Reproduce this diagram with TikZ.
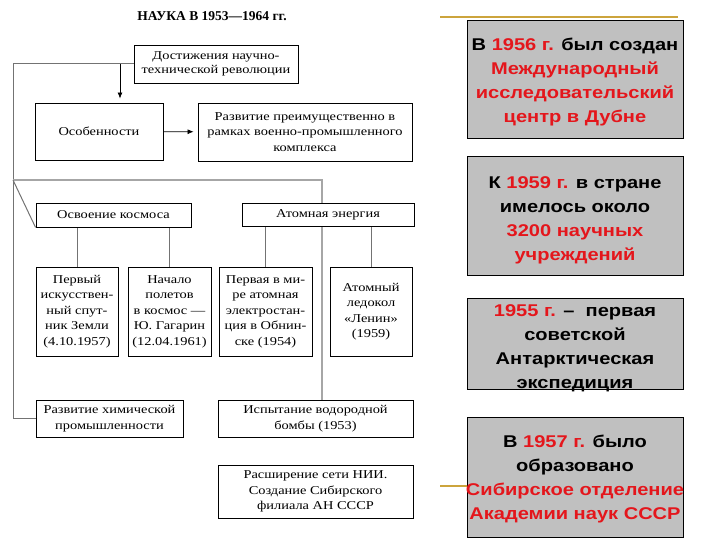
\documentclass[tikz,border=0pt]{standalone}
\usepackage{fontspec}
\setmainfont{Liberation Serif}
\newfontfamily\boxfont[FakeStretch=1.2]{Liberation Serif}
\newfontfamily\infofont[FakeStretch=1.18]{Liberation Sans}
\usetikzlibrary{arrows.meta,backgrounds}
\definecolor{panel}{RGB}{192,192,192}
\definecolor{hot}{RGB}{228,22,28}
\definecolor{gold}{RGB}{204,164,60}
\newcommand{\hl}[1]{\textcolor{hot}{#1}}
\begin{document}
\begin{tikzpicture}[x=1pt, y=-1pt,
		box/.style={draw, line width=0.9pt, fill=white, align=center, inner sep=1pt, font=\boxfont\fontsize{12}{15.5}\selectfont},
		info/.style={draw, line width=0.8pt, fill=panel, minimum width=216, inner sep=0pt},
		infotext/.style={align=center, inner sep=0pt, font=\infofont\bfseries\fontsize{17}{24}\selectfont},
		link/.style={draw=black!55, line width=1pt},
		arr/.style={-{Latex[length=6pt,width=5pt]}, line width=0.7pt, shorten >=4pt}]
	\useasboundingbox (0,0) rectangle (720,540);
	\node[font=\bfseries\fontsize{13.5}{15}\selectfont] (title) at (212,16) {НАУКА В 1953—1964 гг.};
	\node[box, minimum width=164, minimum height=38, font=\boxfont\fontsize{12}{14.5}\selectfont] (dost) at (216,64) {Достижения научно-\\технической революции};
	\node[box, minimum width=128, minimum height=57] (osob) at (99,131.5) {Особенности};
	\node[box, minimum width=214, minimum height=58] (vpk) at (305,132) {Развитие преимущественно в\\рамках военно-промышленного\\комплекса};
	\node[box, minimum width=155, minimum height=24] (kosmos) at (113.5,215) {Освоение космоса};
	\node[box, minimum width=172, minimum height=23] (atom) at (328,214.5) {Атомная энергия};
	\node[box, minimum width=82, minimum height=89] (sputnik) at (77,311.5) {Первый\\искусствен-\\ный спут-\\ник Земли\\(4.10.1957)};
	\node[box, minimum width=83, minimum height=89] (gagarin) at (169.5,311.5) {Начало\\полетов\\в космос —\\Ю. Гагарин\\(12.04.1961)};
	\node[box, minimum width=93, minimum height=89] (aes) at (265.5,311.5) {Первая в ми-\\ре атомная\\электростан-\\ция в Обнин-\\ске (1954)};
	\node[box, minimum width=82, minimum height=89] (ledokol) at (371,311.5) {Атомный\\ледокол\\«Ленин»\\(1959)};
	\node[box, minimum width=147, minimum height=37] (chem) at (109.5,418.5) {Развитие химической\\промышленности};
	\node[box, minimum width=195, minimum height=37] (bomb) at (315.5,418.5) {Испытание водородной\\бомбы (1953)};
	\node[box, minimum width=195, minimum height=53] (nii) at (315.5,491.5) {Расширение сети НИИ.\\Создание Сибирского\\филиала АН СССР};
	\node[info, minimum height=118] (info1) at (575,79) {};
	\node[info, minimum height=119] (info2) at (575,215.5) {};
	\node[info, minimum height=91] (info3) at (575,343.5) {};
	\node[info, minimum height=120] (info4) at (575,477) {};
	\node[infotext] (text1) at ([yshift=-3pt]info1.center) {В \hl{1956 г.} был создан\\\hl{Международный}\\\hl{исследовательский}\\\hl{центр в Дубне}};
	\node[infotext] (text2) at ([yshift=-5pt]info2.center) {К \hl{1959 г.} в стране\\имелось около\\\hl{3200 научных}\\\hl{учреждений}};
	\node[infotext] (text3) at ([yshift=-5pt]info3.center) {\hl{1955 г.} –\ \ первая\\советской\\Антарктическая\\экспедиция};
	\node[infotext] (text4) at ([yshift=-2pt]info4.center) {В \hl{1957 г.} было\\образовано\\\hl{Сибирское отделение}\\\hl{Академии наук СССР}};
	\coordinate (ltop) at (13,64);
	\coordinate (split) at (120,64);
	\coordinate (lmid) at (13,180);
	\coordinate (rmid) at (322,180);
	\coordinate (goldA) at (440,17);
	\coordinate (goldB) at (678,17);
	\coordinate (goldC) at (440,486);
	\begin{scope}[on background layer]
		\draw[link] (dost.west) -- (ltop) |- (chem.west);
		\draw[link, draw=black!35, line width=2pt] (lmid) -- (rmid) -- (rmid |- bomb.north);
		\draw[link] (lmid) -- (kosmos.south west);
		\foreach \k in {sputnik, gagarin}
			\draw[link] (\k.north) -- (\k.north |- kosmos.south);
		\foreach \k in {aes, ledokol}
			\draw[link] (\k.north) -- (\k.north |- atom.south);
	\end{scope}
	\draw[arr] (split) -- (split |- osob.north);
	\draw[arr] (osob) -- (vpk);
	\draw[gold, line width=1.5pt] (goldA) -- (goldB);
	\draw[gold, line width=1.5pt] (goldC) -- (goldC -| info4.west);
\end{tikzpicture}
\end{document}
